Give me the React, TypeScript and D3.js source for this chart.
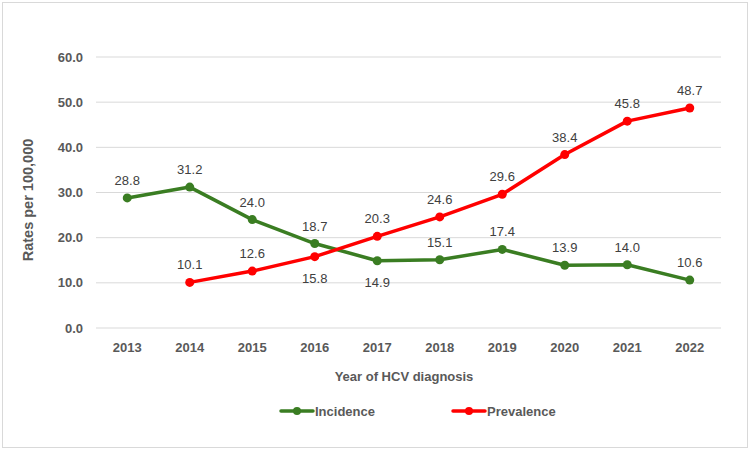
import React from 'react';
import * as d3 from 'd3';

const years = ['2013', '2014', '2015', '2016', '2017', '2018', '2019', '2020', '2021', '2022'];
const incidence: (number | null)[] = [28.8, 31.2, 24.0, 18.7, 14.9, 15.1, 17.4, 13.9, 14.0, 10.6];
const prevalence: (number | null)[] = [null, 10.1, 12.6, 15.8, 20.3, 24.6, 29.6, 38.4, 45.8, 48.7];
const yTicks = [0, 10, 20, 30, 40, 50, 60];

// which labels sit under their point instead of above
const incidenceBelow = ['2017'];
const prevalenceBelow = ['2016'];

const W = 750;
const H = 450;
const plot = { left: 96, right: 721, top: 57, bottom: 328 };

const App = () => {
    const x = d3.scaleBand().domain(years).range([plot.left, plot.right]);
    const y = d3.scaleLinear().domain([0, 60]).range([plot.bottom, plot.top]);
    const cx = (yr: string) => (x(yr) as number) + x.bandwidth() / 2;

    const line = d3.line<[string, number | null]>()
        .defined(d => d[1] !== null)
        .x(d => cx(d[0]))
        .y(d => y(d[1] as number));

    const series = [
        { name: 'Incidence', values: incidence, color: '#3a7d22', below: incidenceBelow },
        { name: 'Prevalence', values: prevalence, color: '#ff0000', below: prevalenceBelow },
    ];

    const font = '"Liberation Sans", Arial, sans-serif';

    return (
        <svg width={W} height={H} style={{ position: 'absolute', left: 0, top: 0 }} fontFamily={font}>
            <rect x={0} y={0} width={W} height={H} fill="#fff" />
            <rect x={2.5} y={2.5} width={W - 5} height={H - 5} fill="none" stroke="#d9d9d9" />

            {yTicks.map(t => (
                <g key={t}>
                    <line x1={plot.left} x2={plot.right} y1={y(t)} y2={y(t)} stroke="#d9d9d9" strokeWidth={1} />
                    <text x={83} y={y(t)} dy="0.35em" textAnchor="end" fontSize={13} fontWeight="bold" fill="#595959">
                        {t.toFixed(1)}
                    </text>
                </g>
            ))}

            {years.map(yr => (
                <text key={yr} x={cx(yr)} y={352} textAnchor="middle" fontSize={13} fontWeight="bold" fill="#595959">
                    {yr}
                </text>
            ))}

            <text x={404} y={381} textAnchor="middle" fontSize={13} fontWeight="bold" fill="#595959">
                Year of HCV diagnosis
            </text>
            <text transform="translate(33,200) rotate(-90)" textAnchor="middle" fontSize={14.5} fontWeight="bold" fill="#595959">
                Rates per 100,000
            </text>

            {series.map(s => {
                const pts = years.map((yr, i) => [yr, s.values[i]] as [string, number | null]);
                return (
                    <g key={s.name}>
                        <path d={line(pts) ?? ''} fill="none" stroke={s.color} strokeWidth={3.5} strokeLinejoin="round" strokeLinecap="round" />
                        {pts.filter(p => p[1] !== null).map(([yr, v]) => (
                            <g key={yr}>
                                <circle cx={cx(yr)} cy={y(v as number)} r={4.5} fill={s.color} />
                                <text x={cx(yr)} y={y(v as number) + (s.below.includes(yr) ? 22 : -13)} dy={s.below.includes(yr) ? '0.35em' : 0}
                                    textAnchor="middle" fontSize={13} fill="#404040">
                                    {(v as number).toFixed(1)}
                                </text>
                            </g>
                        ))}
                    </g>
                );
            })}

            {series.map((s, i) => {
                const lx = i === 0 ? 281 : 453;
                return (
                    <g key={s.name}>
                        <line x1={lx} x2={lx + 32} y1={411} y2={411} stroke={s.color} strokeWidth={3.5} strokeLinecap="round" />
                        <circle cx={lx + 16} cy={411} r={4} fill={s.color} />
                        <text x={lx + 34} y={411} dy="0.35em" fontSize={13} fontWeight="bold" fill="#595959">
                            {s.name}
                        </text>
                    </g>
                );
            })}
        </svg>
    );
};

export default App;
